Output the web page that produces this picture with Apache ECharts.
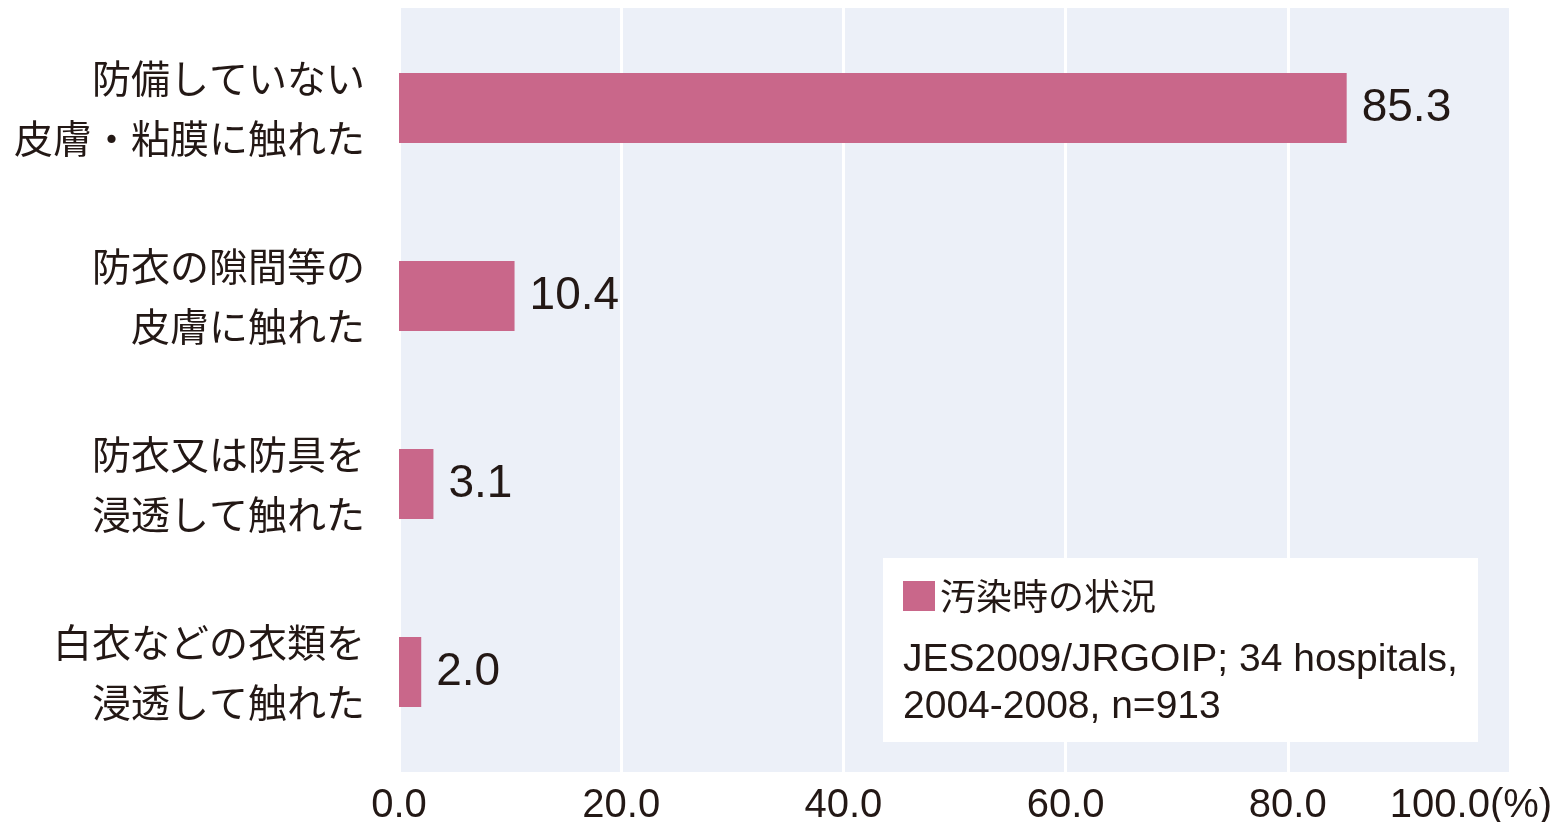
<!DOCTYPE html>
<html>
<head>
<meta charset="utf-8">
<script src="https://cdn.jsdelivr.net/npm/echarts@6/dist/echarts.min.js"></script>
<style>
  html, body { margin: 0; padding: 0; background: #fff; }
  #main { width: 1555px; height: 822px; }
</style>
</head>
<body>
<div id="main"></div>
<script>
// 汚染時の状況 (%)
var categories = [
  '防備していない\n皮膚・粘膜に触れた',
  '防衣の隙間等の\n皮膚に触れた',
  '防衣又は防具を\n浸透して触れた',
  '白衣などの衣類を\n浸透して触れた'
];
var values = [85.3, 10.4, 3.1, 2.0];
var seriesName = '汚染時の状況';
var noteLines = ['JES2009/JRGOIP; 34 hospitals,', '2004-2008, n=913'];

var numFont = '"Liberation Sans", Arial, sans-serif';
var jpFont = '"Noto Sans CJK JP", sans-serif';
var textColor = '#231815';

var myChart = echarts.init(document.getElementById('main'));

var option = {
  backgroundColor: '#ffffff',
  animation: false,
  grid: [
    // background panel, grid lines and tick labels
    { left: 399, right: 45, top: 8, bottom: 50, show: true, backgroundColor: '#ECF0F8', borderWidth: 0, outerBoundsMode: 'none', containLabel: false },
    // bars
    { left: 399, right: 45, top: 14, bottom: 56, show: false, outerBoundsMode: 'none', containLabel: false }
  ],
  legend: {
    data: [seriesName],
    left: 903,
    top: 578,
    z: 6,
    icon: 'rect',
    itemWidth: 32,
    itemHeight: 30,
    padding: 0,
    textStyle: { fontFamily: jpFont, fontSize: 36, color: textColor }
  },
  xAxis: [
    {
      gridIndex: 0,
      type: 'value',
      min: 0,
      max: 100,
      interval: 20,
      axisLine: { show: false },
      axisTick: { show: false },
      splitLine: { show: true, lineStyle: { color: '#ffffff', width: 3 } },
      axisLabel: {
        margin: 14,
        color: textColor,
        fontFamily: numFont,
        fontSize: 40,
        formatter: function (v) {
          if (v === 100) return '{last|100.0(%)}';
          return v.toFixed(1);
        },
        rich: {
          last: { fontFamily: numFont, fontSize: 40, color: textColor, padding: [0, 78, 0, 0] }
        }
      }
    },
    {
      gridIndex: 1,
      type: 'value',
      min: 0,
      max: 100,
      interval: 20,
      show: false
    }
  ],
  yAxis: [
    {
      gridIndex: 0,
      type: 'category',
      data: categories,
      show: false
    },
    {
      gridIndex: 1,
      type: 'category',
      inverse: true,
      data: categories,
      axisLine: { show: false },
      axisTick: { show: false },
      splitLine: { show: false },
      axisLabel: {
        margin: 34,
        color: textColor,
        fontFamily: jpFont,
        fontSize: 39,
        lineHeight: 60,
        align: 'right'
      }
    }
  ],
  series: [
    {
      name: seriesName,
      type: 'bar',
      xAxisIndex: 1,
      yAxisIndex: 1,
      data: values,
      barWidth: 70,
      itemStyle: { color: '#C9678A' },
      label: {
        show: true,
        position: 'right',
        distance: 15,
        color: textColor,
        fontFamily: numFont,
        fontSize: 46,
        formatter: function (p) { return p.value.toFixed(1); }
      }
    }
  ],
  graphic: [
    {
      type: 'rect',
      z: 4,
      shape: { x: 883, y: 558, width: 595, height: 184 },
      style: { fill: '#ffffff' }
    },
    {
      type: 'text',
      z: 5,
      x: 903,
      y: 660,
      style: {
        text: noteLines[0],
        fill: textColor,
        font: '39px ' + numFont,
        verticalAlign: 'middle'
      }
    },
    {
      type: 'text',
      z: 5,
      x: 903,
      y: 707,
      style: {
        text: noteLines[1],
        fill: textColor,
        font: '39px ' + numFont,
        verticalAlign: 'middle'
      }
    }
  ]
};
myChart.setOption(option);
</script>
</body>
</html>
